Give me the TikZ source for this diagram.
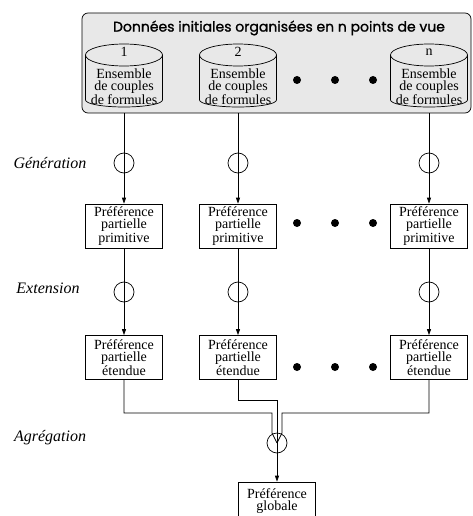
\documentclass[tikz,border=0pt]{standalone}
\usepackage{fontspec}
\setmainfont{Liberation Serif}
\newfontfamily\titlefont[FakeBold=1.2]{Poppins}
\usetikzlibrary{arrows.meta}

\begin{document}
\begin{tikzpicture}[x=1pt,y=-1pt, line width=0.7pt,
    pref/.style={draw, fill=white, minimum width=77pt, minimum height=44pt,
      inner sep=0pt, align=center, font=\fontsize{14}{12}\selectfont},
    ensnum/.style={font=\fontsize{14}{14}\selectfont},
    enstxt/.style={align=center, inner sep=0pt, font=\fontsize{14}{12}\selectfont},
    op/.style={draw, circle, minimum size=20pt, inner sep=0pt},
    etape/.style={font=\fontsize{16}{16}\selectfont\itshape},
    pt/.style={circle, fill=black, minimum size=8pt, inner sep=0pt},
    fl/.style={-{Triangle[length=6pt,width=4pt]}}]
  \useasboundingbox (0,0) rectangle (473,516);

  % donnees initiales
  \draw[rounded corners=6pt, fill=gray!18] (82,13) rectangle (471,113);
  \node[font=\titlefont\fontsize{14}{14}\selectfont] (titre) at (279,28)
    {Données initiales organisées en n points de vue};

  \foreach \i/\x in {1/124, 2/238, n/429} {
    % cylindre
    \draw[fill=gray!18] (\x-38.5,55) arc[start angle=180, end angle=360, x radius=38.5, y radius=11]
      -- (\x+38.5,100) arc[start angle=0, end angle=180, x radius=38.5, y radius=7] -- cycle;
    \draw (\x+38.5,55) arc[start angle=0, end angle=180, x radius=38.5, y radius=11];
    \node[ensnum] (num\i) at (\x,52) {\i};
    \node[enstxt] (cyl\i) at (\x,87) {Ensemble\\de couples\\de formules};
  }
  \foreach \x [count=\k] in {297,335,373} {
    \node[pt] (d1\k) at (\x,80) {};
    \node[pt] (d2\k) at (\x,223) {};
    \node[pt] (d3\k) at (\x,367) {};
  }

  % generation et extension
  \foreach \i/\x in {1/124, 2/238, n/429} {
    \coordinate (dep\i) at (\x,113);
    \node[op] (gen\i) at (\x,163) {};
    \node[pref] (prim\i) at (\x,226) {Préférence\\partielle\\primitive};
    \node[op] (ext\i) at (\x,292) {};
    \node[pref] (etend\i) at (\x,357.5) {Préférence\\partielle\\étendue};
    \draw[fl] (dep\i) -- (prim\i.north);
    \draw[fl] (prim\i.south) -- (etend\i.north);
  }

  % agregation
  \node[op] (agr) at (277,443) {};
  \node[pref, minimum height=38pt] (glob) at (277,501) {Préférence\\globale};
  \coordinate (j1) at (272,433);
  \coordinate (j2) at (282,433);
  \draw (etend1.south) |- (272,413) -- (j1) -- (agr.center);
  \draw (etend2.south) |- (277,400) -- (agr.center);
  \draw (etendn.south) |- (282,413) -- (j2) -- (agr.center);
  \draw[fl] (agr.center) -- (glob.north);

  \node[etape] (lgen) at (50,163) {Génération};
  \node[etape] (lext) at (48,288) {Extension};
  \node[etape] (lagr) at (50,438) {Agrégation};
\end{tikzpicture}
\end{document}
